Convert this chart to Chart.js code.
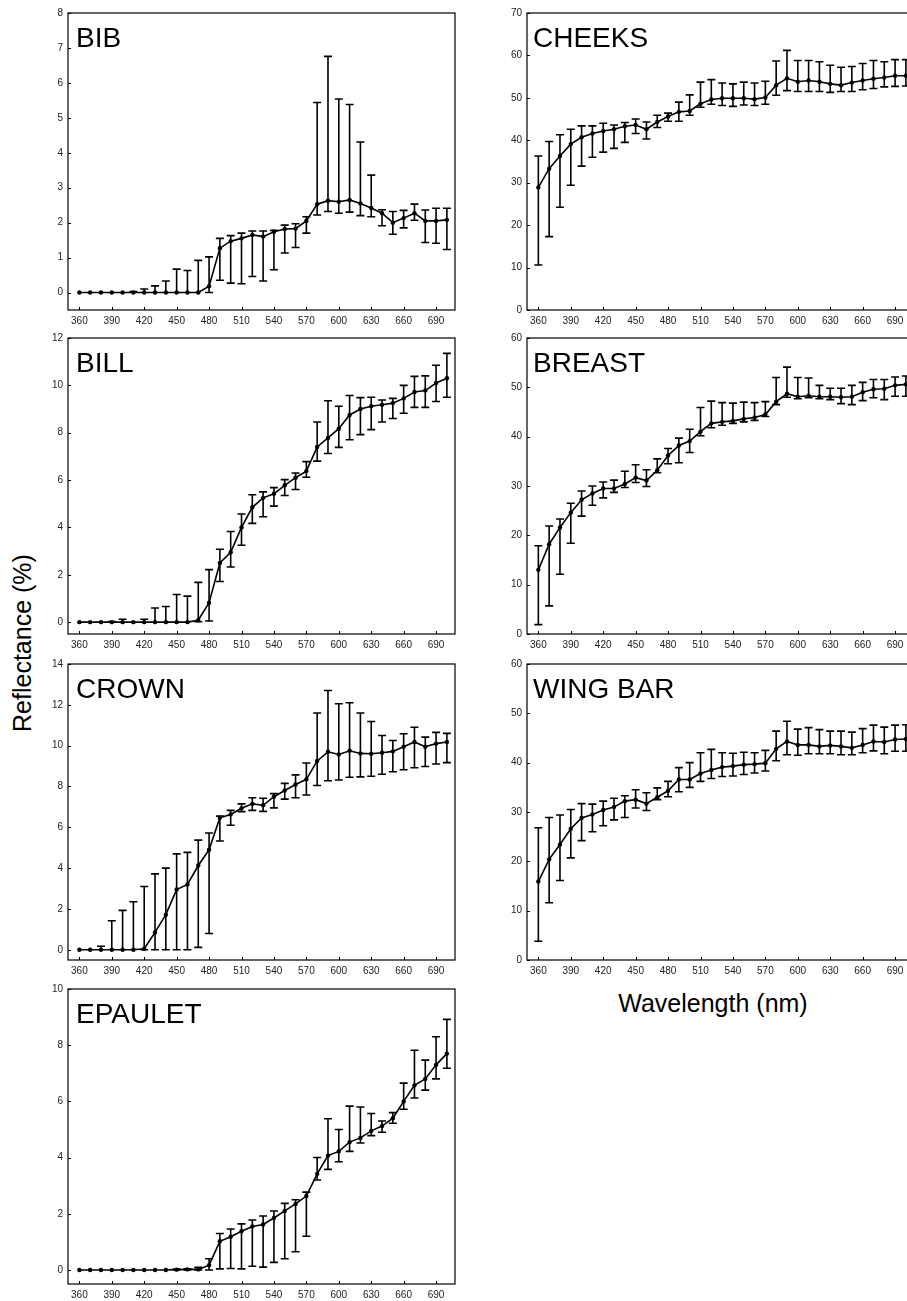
<!DOCTYPE html>
<html>
<head>
<meta charset="UTF-8">
<title>Reflectance spectra</title>
<script src="https://cdn.jsdelivr.net/npm/chart.js"></script>
<style>
  html, body { margin: 0; padding: 0; background: #fff; overflow: hidden; }
  body { width: 907px; height: 1301px; position: relative; font-family: "Liberation Sans", Arial, sans-serif; }
  canvas { position: absolute; }
  .name { position: absolute; font-size: 28px; line-height: 28px; color: #000; white-space: nowrap; }
  .axis-title { position: absolute; font-size: 25px; line-height: 30px; color: #000; text-align: center; white-space: nowrap; }
</style>
</head>
<body>

<div class="axis-title" style="left:-128px; top:628px; width:300px; transform:rotate(-90deg);">Reflectance (%)</div>
<div class="axis-title" style="left:513px; top:988px; width:400px;">Wavelength (nm)</div>

<script>
// wavelengths (nm) and x tick labels
const wavelengths = [360, 370, 380, 390, 400, 410, 420, 430, 440, 450, 460, 470, 480, 490, 500, 510, 520,
  530, 540, 550, 560, 570, 580, 590, 600, 610, 620, 630, 640, 650, 660, 670, 680, 690, 700];
const xTicks = [360, 390, 420, 450, 480, 510, 540, 570, 600, 630, 660, 690];

// BIB
const bibMean  = [0, 0, 0, 0, 0, 0, 0, 0, 0, 0, 0, 0, 0.18, 1.27, 1.47, 1.55, 1.65, 1.6, 1.74, 1.82, 1.83, 2.05,
  2.53, 2.63, 2.6, 2.65, 2.55, 2.42, 2.27, 2.0, 2.13, 2.27, 2.05, 2.05, 2.08];
const bibUpper = [0, 0, 0, 0, 0, 0.03, 0.1, 0.19, 0.33, 0.67, 0.63, 0.92, 1.02, 1.55, 1.63, 1.7, 1.76, 1.76, 1.78,
  1.93, 1.97, 2.17, 5.44, 6.76, 5.54, 5.38, 4.31, 3.36, 2.37, 2.32, 2.35, 2.53, 2.36, 2.41, 2.41];
const bibLower = [0, 0, 0, 0, 0, 0, 0, 0, 0, 0, 0, 0, 0, 0.35, 0.27, 0.25, 0.46, 0.33, 0.65, 1.13, 1.29, 1.7,
  2.22, 2.32, 2.27, 2.3, 2.2, 2.17, 1.91, 1.67, 1.85, 2.07, 1.43, 1.41, 1.23];
const bibTicks = [0, 1, 2, 3, 4, 5, 6, 7, 8];

// BILL
const billMean  = [0, 0, 0, 0, 0, 0, 0, 0, 0, 0, 0, 0.08, 0.82, 2.5, 2.95, 4.0, 4.85, 5.25, 5.42, 5.78, 6.1, 6.38,
  7.4, 7.78, 8.17, 8.75, 9.0, 9.12, 9.18, 9.25, 9.45, 9.72, 9.78, 10.1, 10.3];
const billUpper = [0, 0, 0, 0.03, 0.12, 0, 0.12, 0.6, 0.66, 1.17, 1.1, 1.68, 2.22, 3.08, 3.83, 4.57, 5.38, 5.5, 5.68,
  6.02, 6.3, 6.78, 8.45, 9.35, 9.12, 9.57, 9.48, 9.5, 9.38, 9.45, 10.0, 10.38, 10.4, 10.85, 11.35];
const billLower = [0, 0, 0, 0, 0, 0, 0, 0, 0, 0, 0, 0.02, 0.05, 1.72, 2.33, 3.25, 4.17, 4.45, 4.9, 5.35, 5.6, 6.12,
  6.8, 7.12, 7.38, 7.7, 7.92, 8.13, 8.45, 8.6, 8.82, 9.07, 9.07, 9.32, 9.5];
const billTicks = [0, 2, 4, 6, 8, 10, 12];

// CROWN
const crownMean  = [0, 0, 0, 0, 0, 0, 0.05, 0.85, 1.72, 2.95, 3.2, 4.13, 4.9, 6.47, 6.63, 6.93, 7.15, 7.08, 7.5,
  7.8, 8.1, 8.35, 9.25, 9.7, 9.57, 9.75, 9.62, 9.6, 9.65, 9.72, 9.95, 10.18, 9.95, 10.1, 10.18];
const crownUpper = [0, 0, 0.17, 1.42, 1.93, 2.35, 3.1, 3.72, 4.0, 4.7, 4.77, 5.37, 5.72, 6.55, 6.83, 7.15, 7.45,
  7.42, 7.65, 8.15, 8.57, 9.15, 11.6, 12.7, 12.05, 12.1, 11.6, 11.18, 10.5, 10.25, 10.58, 10.9, 10.42, 10.65, 10.6];
const crownLower = [0, 0, 0, 0, 0, 0, 0, 0, 0, 0, 0, 0.12, 0.8, 5.33, 6.1, 6.77, 6.83, 6.78, 6.95, 7.38, 7.45, 7.58,
  8.05, 8.28, 8.32, 8.45, 8.47, 8.5, 8.6, 8.72, 8.82, 8.92, 8.98, 9.1, 9.17];
const crownTicks = [0, 2, 4, 6, 8, 10, 12, 14];

// EPAULET
const epauletMean  = [0, 0, 0, 0, 0, 0, 0, 0, 0, 0.01, 0.02, 0.02, 0.17, 1.02, 1.18, 1.38, 1.55, 1.62, 1.85, 2.1,
  2.35, 2.63, 3.42, 4.07, 4.22, 4.55, 4.7, 4.95, 5.12, 5.4, 6.0, 6.57, 6.8, 7.3, 7.7];
const epauletUpper = [0, 0, 0, 0, 0, 0, 0, 0, 0, 0.03, 0.04, 0.09, 0.4, 1.3, 1.46, 1.64, 1.78, 1.92, 2.1, 2.37,
  2.5, 2.77, 4.0, 5.38, 5.0, 5.83, 5.8, 5.57, 5.3, 5.6, 6.65, 7.82, 7.47, 8.3, 8.92];
const epauletLower = [0, 0, 0, 0, 0, 0, 0, 0, 0, 0, 0, 0, 0, 0.04, 0.05, 0.04, 0.13, 0.1, 0.27, 0.4, 0.65, 1.2,
  3.2, 3.58, 3.85, 4.22, 4.52, 4.78, 4.9, 5.22, 5.72, 6.12, 6.4, 6.8, 7.18];
const epauletTicks = [0, 2, 4, 6, 8, 10];

// CHEEKS
const cheeksMean  = [28.9, 33.3, 36.3, 39.1, 40.7, 41.6, 42.2, 42.6, 43.3, 43.6, 42.6, 44.3, 45.6, 46.7, 46.9, 48.6,
  49.6, 49.9, 49.9, 49.9, 49.7, 50.1, 53.0, 54.6, 53.8, 54.1, 53.8, 53.3, 53.0, 53.6, 54.1, 54.5, 54.8, 55.2, 55.2];
const cheeksUpper = [36.3, 39.7, 41.3, 42.6, 43.4, 43.4, 44.0, 43.6, 44.2, 45.0, 44.3, 45.9, 46.4, 49.0, 50.7, 53.7,
  54.3, 53.5, 53.3, 53.7, 53.5, 53.9, 58.7, 61.2, 58.8, 58.8, 58.5, 57.7, 57.2, 57.4, 58.1, 58.8, 58.5, 59.0, 59.0];
const cheeksLower = [10.6, 17.3, 24.2, 29.4, 33.9, 36.0, 37.2, 38.1, 39.5, 41.6, 40.3, 43.0, 44.5, 44.5, 45.9, 47.8,
  48.5, 48.2, 48.0, 48.3, 48.2, 48.5, 50.6, 51.7, 51.5, 51.5, 51.5, 51.3, 51.5, 51.5, 51.9, 52.2, 52.6, 52.7, 52.8];
const cheeksTicks = [0, 10, 20, 30, 40, 50, 60, 70];

// BREAST
const breastMean  = [13.0, 18.2, 21.6, 24.6, 27.2, 28.5, 29.5, 29.5, 30.4, 31.7, 31.1, 33.2, 36.2, 38.2, 39.1, 41.0,
  42.7, 43.0, 43.2, 43.6, 43.9, 44.5, 47.1, 48.7, 48.1, 48.3, 48.1, 48.1, 48.0, 48.1, 49.0, 49.6, 49.7, 50.4, 50.6];
const breastUpper = [17.9, 21.9, 23.3, 26.5, 29.0, 30.0, 30.8, 31.2, 33.0, 34.3, 33.3, 35.5, 37.6, 39.7, 41.5, 45.9,
  47.2, 46.9, 46.8, 47.0, 46.9, 47.1, 52.0, 54.1, 52.0, 51.9, 50.4, 49.8, 49.8, 50.4, 51.0, 51.6, 51.6, 52.1, 52.3];
const breastLower = [1.9, 5.7, 12.1, 18.4, 23.9, 26.1, 27.6, 28.7, 29.7, 30.7, 29.9, 32.7, 34.5, 34.7, 36.8, 40.2,
  41.8, 42.3, 42.7, 43.0, 43.3, 44.1, 46.5, 48.0, 47.7, 47.9, 47.7, 47.5, 46.7, 46.5, 47.3, 47.9, 47.5, 48.2, 48.2];
const breastTicks = [0, 10, 20, 30, 40, 50, 60];

// WING BAR
const wingMean  = [15.9, 20.4, 23.4, 26.6, 28.8, 29.5, 30.4, 31.0, 32.2, 32.5, 31.7, 33.0, 34.3, 36.6, 36.6, 37.8,
  38.5, 39.1, 39.3, 39.6, 39.7, 39.9, 42.8, 44.3, 43.6, 43.6, 43.3, 43.5, 43.3, 43.0, 43.6, 44.3, 44.2, 44.7, 44.8];
const wingUpper = [26.8, 28.9, 29.4, 30.5, 31.7, 31.6, 32.2, 32.8, 33.3, 34.5, 33.9, 34.9, 36.2, 39.0, 40.0, 42.0,
  42.7, 42.0, 41.9, 42.1, 42.0, 42.5, 46.4, 48.4, 46.8, 47.1, 46.7, 46.4, 46.4, 46.2, 46.9, 47.6, 47.2, 47.6, 47.7];
const wingLower = [3.8, 11.6, 16.1, 20.7, 24.2, 26.0, 27.2, 28.4, 28.9, 30.8, 30.3, 32.5, 33.1, 34.1, 35.0, 36.2,
  36.8, 37.2, 37.3, 37.6, 37.9, 38.3, 40.4, 41.6, 41.5, 41.8, 41.8, 41.8, 41.6, 41.6, 42.0, 42.4, 41.8, 42.3, 42.3];
const wingTicks = [0, 10, 20, 30, 40, 50, 60];

const panels = [
  { name: 'BIB',      mean: bibMean,     upper: bibUpper,     lower: bibLower,     ticks: bibTicks,     min: -0.5, col: 0, row: 0 },
  { name: 'BILL',     mean: billMean,    upper: billUpper,    lower: billLower,    ticks: billTicks,    min: -0.5, col: 0, row: 1 },
  { name: 'CROWN',    mean: crownMean,   upper: crownUpper,   lower: crownLower,   ticks: crownTicks,   min: -0.5, col: 0, row: 2 },
  { name: 'EPAULET',  mean: epauletMean, upper: epauletUpper, lower: epauletLower, ticks: epauletTicks, min: -0.5, col: 0, row: 3 },
  { name: 'CHEEKS',   mean: cheeksMean,  upper: cheeksUpper,  lower: cheeksLower,  ticks: cheeksTicks,  min: 0,    col: 1, row: 0 },
  { name: 'BREAST',   mean: breastMean,  upper: breastUpper,  lower: breastLower,  ticks: breastTicks,  min: 0,    col: 1, row: 1 },
  { name: 'WING BAR', mean: wingMean,    upper: wingUpper,    lower: wingLower,    ticks: wingTicks,    min: 0,    col: 1, row: 2 }
];

// layout (plot-area edges in page pixels)
const rowTops = [13, 338, 664, 989];
const rowBottoms = [310, 634, 960, 1284];
const colLefts = [68, 527];
const yAxisW = [68, 60];
const plotW = 387;
const padTop = 13, xAxisH = 22, padRight = 4;

function errorBarsFor(p) {
  return {
    id: 'errorBars',
    afterDatasetsDraw(chart) {
      const { ctx, scales: { x, y } } = chart;
      ctx.save();
      ctx.strokeStyle = '#000';
      ctx.lineWidth = 1.6;
      const cap = 4;
      wavelengths.forEach((w, i) => {
        const m = p.mean[i], u = p.upper[i], l = p.lower[i];
        if (u <= m && l >= m) return;
        const px = x.getPixelForValue(w);
        const pu = y.getPixelForValue(Math.max(u, m));
        const pl = y.getPixelForValue(Math.min(l, m));
        ctx.beginPath();
        ctx.moveTo(px, pu); ctx.lineTo(px, pl);
        if (u > m) { ctx.moveTo(px - cap, pu); ctx.lineTo(px + cap, pu); }
        if (l < m) { ctx.moveTo(px - cap, pl); ctx.lineTo(px + cap, pl); }
        ctx.stroke();
      });
      ctx.restore();
    }
  };
}

const frame = {
  id: 'frame',
  afterDraw(chart) {
    const { ctx, chartArea: a, scales: { x, y } } = chart;
    ctx.save();
    ctx.strokeStyle = '#000';
    ctx.lineWidth = 1.2;
    ctx.strokeRect(a.left, a.top, a.right - a.left, a.bottom - a.top);
    ctx.lineWidth = 1;
    ctx.beginPath();
    y.ticks.forEach(t => {
      const py = Math.round(y.getPixelForValue(t.value)) + 0.5;
      ctx.moveTo(a.left, py); ctx.lineTo(a.left + 3, py);
    });
    x.ticks.forEach(t => {
      const px = Math.round(x.getPixelForValue(t.value)) + 0.5;
      ctx.moveTo(px, a.bottom); ctx.lineTo(px, a.bottom - 3);
    });
    ctx.stroke();
    ctx.restore();
  }
};

const tickFont = { family: '"Liberation Sans", Arial, sans-serif', size: 10 };

panels.forEach(p => {
  const top = rowTops[p.row], bottom = rowBottoms[p.row];
  const cv = document.createElement('canvas');
  const w = yAxisW[p.col] + plotW + padRight;
  const h = (bottom - top) + padTop + xAxisH;
  cv.width = w; cv.height = h;
  cv.style.left = (colLefts[p.col] - yAxisW[p.col]) + 'px';
  cv.style.top = (top - padTop) + 'px';
  cv.style.width = w + 'px'; cv.style.height = h + 'px';
  document.body.appendChild(cv);

  const label = document.createElement('div');
  label.className = 'name';
  label.textContent = p.name;
  label.style.left = (colLefts[p.col] + (p.col === 0 ? 8 : 6)) + 'px';
  label.style.top = (top + 10.5) + 'px';
  document.body.appendChild(label);

  new Chart(cv, {
    type: 'line',
    data: {
      datasets: [{
        data: wavelengths.map((wl, i) => ({ x: wl, y: p.mean[i] })),
        borderColor: '#000',
        borderWidth: 1.6,
        tension: 0,
        pointRadius: 2.2,
        pointBackgroundColor: '#000',
        pointBorderWidth: 0,
        fill: false
      }]
    },
    options: {
      responsive: false,
      animation: false,
      events: [],
      layout: { padding: { top: padTop, right: padRight, left: 0, bottom: 0 }, autoPadding: false },
      plugins: { legend: { display: false }, tooltip: { enabled: false } },
      scales: {
        x: {
          type: 'linear',
          min: 349.5,
          max: 707.5,
          grid: { display: false, drawTicks: false },
          border: { display: false },
          afterBuildTicks: s => { s.ticks = xTicks.map(v => ({ value: v })); },
          afterFit: s => { s.height = xAxisH; },
          ticks: { color: '#222', font: tickFont, padding: 5, maxRotation: 0, autoSkip: false }
        },
        y: {
          type: 'linear',
          min: p.min,
          max: p.ticks[p.ticks.length - 1],
          grid: { display: false, drawTicks: false },
          border: { display: false },
          afterBuildTicks: s => { s.ticks = p.ticks.map(v => ({ value: v })); },
          afterFit: s => { s.width = yAxisW[p.col]; },
          ticks: { color: '#222', font: tickFont, padding: 5, autoSkip: false }
        }
      }
    },
    plugins: [errorBarsFor(p), frame]
  });
});
</script>
</body>
</html>
